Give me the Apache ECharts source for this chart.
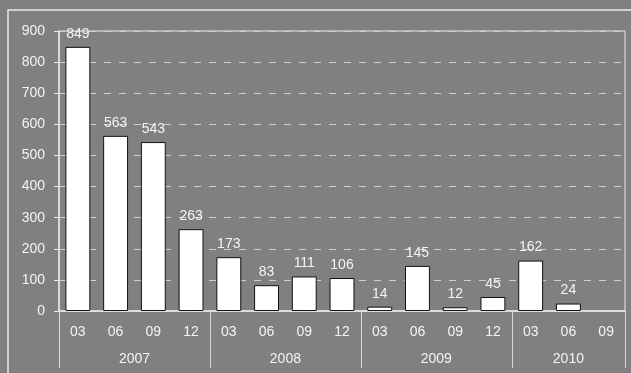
<!DOCTYPE html>
<html>
<head>
<meta charset="utf-8">
<script src="https://cdn.jsdelivr.net/npm/echarts@6/dist/echarts.min.js"></script>
<style>
  html, body { margin: 0; padding: 0; background: #808080; }
  #main { width: 631px; height: 373px; }
</style>
</head>
<body>
<div id="main"></div>
<script>
// quarterly values, 2007-03 .. 2010-09 (last quarter empty)
var months = ["03", "06", "09", "12", "03", "06", "09", "12", "03", "06", "09", "12", "03", "06", "09"];
var values = [849, 563, 543, 263, 173, 83, 111, 106, 14, 145, 12, 45, 162, 24, "-"];
var years = ["2007", "2008", "2009", "2010"];
var yearSpans = [4, 4, 4, 3];

// year axis uses half-quarter slots so labels can sit on group centres
var halfSlots = [];
var yearLabelAt = {};
var yearTickAt = {0: true};
var pos = 0;
years.forEach(function (y, i) {
  yearLabelAt[pos + yearSpans[i]] = y;
  pos += yearSpans[i] * 2;
  yearTickAt[pos] = true;
});
for (var i = 0; i <= pos; i++) {
  halfSlots.push(yearLabelAt[i] || "");
}

var textColor = "#f4f4f4";
var font = "Liberation Sans, Arial, sans-serif";

var chart = echarts.init(document.getElementById("main"));
chart.setOption({
  backgroundColor: "#808080",
  animation: false,
  textStyle: { fontFamily: font },
  graphic: [{
    type: "rect",
    shape: { x: 8, y: 10, width: 640, height: 400 },
    style: { fill: "none", stroke: "#e8e8e8", lineWidth: 1.5 }
  }],
  grid: {
    left: 59,
    right: 6,
    top: 31,
    bottom: 62,
    show: true,
    borderColor: "#e8e8e8",
    borderWidth: 1,
    containLabel: false
  },
  xAxis: [
    {
      type: "category",
      data: months,
      boundaryGap: true,
      axisLine: { lineStyle: { color: "#e8e8e8", width: 1.5 } },
      axisTick: { interval: 0, alignWithLabel: false, length: 30, lineStyle: { color: "#d8d8d8" } },
      axisLabel: { interval: 0, color: textColor, fontSize: 14, margin: 14, fontFamily: font }
    },
    {
      type: "category",
      data: halfSlots,
      boundaryGap: false,
      position: "bottom",
      axisLine: { show: false },
      axisTick: {
        length: 57,
        interval: function (index) { return !!yearTickAt[index]; },
        lineStyle: { color: "#d8d8d8" }
      },
      axisLabel: {
        interval: function (index) { return halfSlots[index] !== ""; },
        color: textColor,
        fontSize: 14,
        margin: 41,
        fontFamily: font
      }
    }
  ],
  yAxis: {
    type: "value",
    min: 0,
    max: 900,
    interval: 100,
    axisLine: { show: true, lineStyle: { color: "#e8e8e8", width: 1.5 } },
    axisTick: { show: true, length: 5, lineStyle: { color: "#e8e8e8" } },
    axisLabel: { color: textColor, fontSize: 14, margin: 14, fontFamily: font },
    splitLine: { lineStyle: { color: "#cfcfcf", type: [7, 8], width: 1 } }
  },
  series: [{
    type: "bar",
    xAxisIndex: 0,
    data: values,
    barWidth: "66%",
    itemStyle: { color: "#ffffff", borderColor: "#111111", borderWidth: 1 },
    label: {
      show: true,
      position: "top",
      distance: 6,
      color: textColor,
      fontSize: 14,
      fontFamily: font
    }
  }]
});
</script>
</body>
</html>
